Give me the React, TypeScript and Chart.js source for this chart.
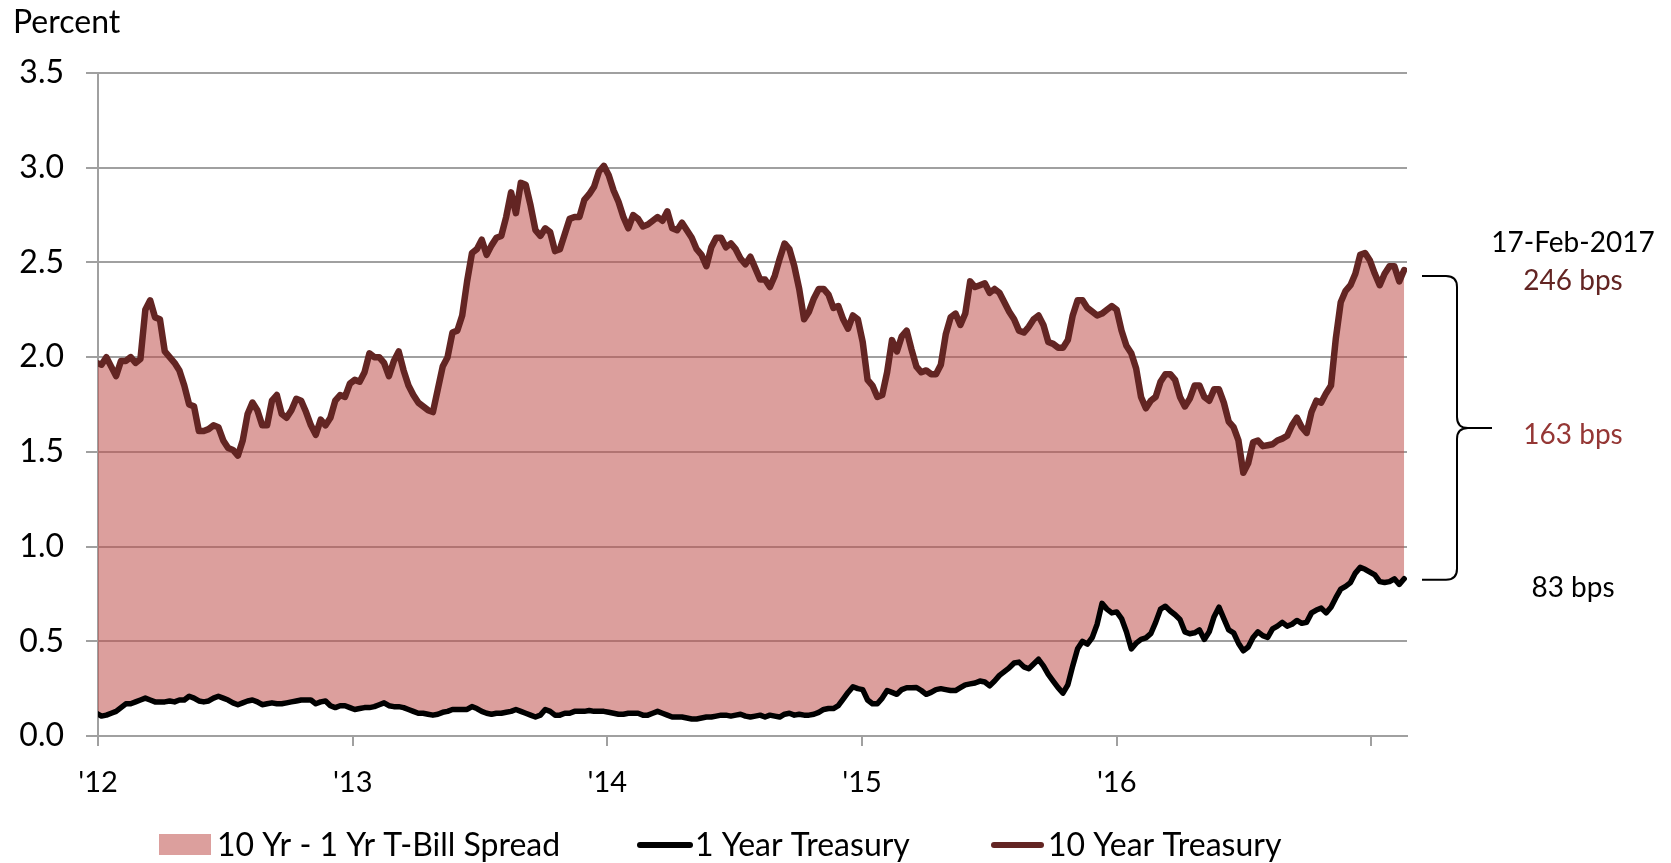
import { useEffect, useRef } from 'react';
import { Chart, registerables } from 'chart.js';

Chart.register(...registerables);

// Weekly observations (Fridays) from 30-Dec-2011 to 17-Feb-2017
const START_DATE_UTC = Date.UTC(2011, 11, 30);
const STEP_DAYS = 7;

const YEAR_TICKS = [2012, 2013, 2014, 2015, 2016, 2017];
const LABELED_YEARS = [2012, 2013, 2014, 2015, 2016];
const SERIES_LABELS = ['10 Yr - 1 Yr T-Bill Spread', '1 Year Treasury', '10 Year Treasury'];
const AS_OF_LABEL = '17-Feb-2017';
const Y_AXIS_TITLE = 'Percent';

// 10 Year Treasury yield, percent
const TEN_YEAR = [
  // 2012
  1.97, 1.96, 2.0, 1.95, 1.9, 1.98, 1.98, 2.0, 1.97, 1.99,
  2.25, 2.3, 2.21, 2.2, 2.03, 2.0, 1.97, 1.93, 1.85, 1.75,
  1.74, 1.61, 1.61, 1.62, 1.64, 1.63, 1.56, 1.52, 1.51, 1.48,
  1.56, 1.7, 1.76, 1.72, 1.64, 1.64, 1.77, 1.8, 1.7, 1.68,
  1.72, 1.78, 1.77, 1.71, 1.64, 1.59, 1.67, 1.64, 1.68, 1.77,
  1.8, 1.79,
  // 2013
  1.86, 1.88, 1.87, 1.92, 2.02, 2.0, 2.0, 1.97, 1.9, 1.98,
  2.03, 1.93, 1.85, 1.8, 1.76, 1.74, 1.72, 1.71, 1.83, 1.95,
  2.0, 2.13, 2.14, 2.22, 2.4, 2.55, 2.57, 2.62, 2.54, 2.59,
  2.63, 2.64, 2.74, 2.87, 2.76, 2.92, 2.91, 2.8, 2.67, 2.64,
  2.68, 2.66, 2.56, 2.57, 2.65, 2.73, 2.74, 2.74, 2.83, 2.86,
  2.9, 2.98,
  // 2014
  3.01, 2.96, 2.88, 2.82, 2.74, 2.68, 2.75, 2.73, 2.69, 2.7,
  2.72, 2.74, 2.72, 2.77, 2.68, 2.67, 2.71, 2.67, 2.63, 2.57,
  2.54, 2.48, 2.58, 2.63, 2.63, 2.58, 2.6, 2.57, 2.52, 2.49,
  2.53, 2.47, 2.41, 2.41, 2.37, 2.43, 2.52, 2.6, 2.57, 2.48,
  2.36, 2.2, 2.24, 2.31, 2.36, 2.36, 2.33, 2.26, 2.27, 2.2,
  2.15, 2.22,
  // 2015
  2.2, 2.08, 1.88, 1.85, 1.79, 1.8, 1.92, 2.09, 2.03, 2.11,
  2.14, 2.04, 1.95, 1.92, 1.93, 1.91, 1.91, 1.96, 2.12, 2.21,
  2.23, 2.17, 2.23, 2.4, 2.37, 2.38, 2.39, 2.34, 2.36, 2.34,
  2.29, 2.24, 2.2, 2.14, 2.13, 2.16, 2.2, 2.22, 2.17, 2.08,
  2.07, 2.05, 2.05, 2.09, 2.22, 2.3, 2.3, 2.26, 2.24, 2.22,
  2.23, 2.25,
  // 2016 - 2017
  2.27, 2.25, 2.14, 2.06, 2.02, 1.94, 1.79, 1.73, 1.77, 1.79,
  1.87, 1.91, 1.91, 1.88, 1.79, 1.74, 1.78, 1.85, 1.85, 1.79,
  1.77, 1.83, 1.83, 1.76, 1.66, 1.63, 1.56, 1.39, 1.44, 1.55,
  1.56, 1.53, 1.535, 1.54, 1.56, 1.57, 1.585, 1.64, 1.68, 1.63,
  1.6, 1.71, 1.77, 1.76, 1.81, 1.85, 2.1, 2.29, 2.35, 2.38,
  2.44, 2.54, 2.55, 2.51, 2.44, 2.38, 2.44, 2.48, 2.48, 2.4,
  2.46,
];

// 1 Year Treasury yield, percent
const ONE_YEAR = [
  // 2012
  0.12, 0.105, 0.11, 0.12, 0.13, 0.15, 0.17, 0.17, 0.18, 0.19,
  0.2, 0.19, 0.18, 0.18, 0.18, 0.185, 0.18, 0.19, 0.19, 0.21,
  0.2, 0.185, 0.18, 0.185, 0.2, 0.21, 0.2, 0.19, 0.175, 0.165,
  0.175, 0.185, 0.19, 0.18, 0.165, 0.17, 0.175, 0.17, 0.17, 0.175,
  0.18, 0.185, 0.19, 0.19, 0.19, 0.17, 0.18, 0.185, 0.16, 0.15,
  0.16, 0.16,
  // 2013
  0.15, 0.14, 0.145, 0.15, 0.15, 0.155, 0.165, 0.175, 0.16, 0.155,
  0.155, 0.15, 0.14, 0.13, 0.12, 0.12, 0.115, 0.11, 0.115, 0.125,
  0.13, 0.14, 0.14, 0.14, 0.14, 0.155, 0.145, 0.13, 0.12, 0.115,
  0.12, 0.12, 0.125, 0.13, 0.14, 0.13, 0.12, 0.11, 0.1, 0.11,
  0.14, 0.13, 0.11, 0.11, 0.12, 0.12, 0.13, 0.13, 0.13, 0.135,
  0.13, 0.13,
  // 2014
  0.13, 0.125, 0.12, 0.115, 0.115, 0.12, 0.12, 0.12, 0.11, 0.11,
  0.12, 0.13, 0.12, 0.11, 0.1, 0.1, 0.1, 0.095, 0.09, 0.09,
  0.095, 0.1, 0.1, 0.105, 0.11, 0.11, 0.105, 0.11, 0.115, 0.105,
  0.1, 0.105, 0.11, 0.1, 0.11, 0.105, 0.1, 0.115, 0.12, 0.11,
  0.115, 0.11, 0.11, 0.115, 0.125, 0.14, 0.145, 0.145, 0.16, 0.195,
  0.23, 0.26,
  // 2015
  0.25, 0.245, 0.19, 0.17, 0.17, 0.2, 0.24, 0.23, 0.22, 0.245,
  0.255, 0.255, 0.256, 0.24, 0.22, 0.23, 0.245, 0.25, 0.245, 0.24,
  0.24, 0.255, 0.27, 0.275, 0.28, 0.29, 0.285, 0.265, 0.29, 0.32,
  0.34, 0.36, 0.385, 0.39, 0.365, 0.355, 0.38, 0.405, 0.37, 0.325,
  0.29, 0.255, 0.226, 0.27, 0.37, 0.46, 0.5, 0.485, 0.52, 0.59,
  0.7, 0.67,
  // 2016 - 2017
  0.65, 0.655, 0.62, 0.55, 0.46, 0.49, 0.51, 0.518, 0.54, 0.6,
  0.67, 0.685, 0.66, 0.64, 0.615, 0.55, 0.54, 0.545, 0.56, 0.51,
  0.55, 0.63, 0.68, 0.62, 0.56, 0.545, 0.49, 0.45, 0.47, 0.52,
  0.55, 0.53, 0.52, 0.565, 0.58, 0.6, 0.58, 0.59, 0.61, 0.595,
  0.6, 0.65, 0.665, 0.675, 0.65, 0.68, 0.73, 0.775, 0.79, 0.81,
  0.86, 0.89, 0.88, 0.865, 0.85, 0.815, 0.81, 0.815, 0.83, 0.8,
  0.83,
];

const FONT = 'Lato, "Open Sans", sans-serif';
const COLOR_TEN = '#632523';
const COLOR_SPREAD_TEXT = '#953735';
const COLOR_FILL = 'rgba(192, 80, 77, 0.55)';
const COLOR_GRID = '#a0a0a0';

function decimalYear(ms: number): number {
  const d = new Date(ms);
  const y = d.getUTCFullYear();
  const s = Date.UTC(y, 0, 1);
  const e = Date.UTC(y + 1, 0, 1);
  return y + (ms - s) / (e - s);
}

const X_VALUES = TEN_YEAR.map((_, i) => decimalYear(START_DATE_UTC + i * STEP_DAYS * 86400000));

const overlayPlugin = {
  id: 'overlay',
  afterDraw(chart: any) {
    const { ctx } = chart;
    const yScale = chart.scales.y;
    ctx.save();

    // y-axis title
    ctx.fillStyle = '#000';
    ctx.font = `32px ${FONT}`;
    ctx.textAlign = 'left';
    ctx.textBaseline = 'alphabetic';
    ctx.fillText(Y_AXIS_TITLE, 13, 33);

    // right-hand annotation
    const last10 = TEN_YEAR[TEN_YEAR.length - 1];
    const last1 = ONE_YEAR[ONE_YEAR.length - 1];
    const y10 = yScale.getPixelForValue(last10);
    const y1 = yScale.getPixelForValue(last1);
    const top = y10 + 6;
    const bot = y1 + 1;
    const mid = (top + bot) / 2;
    const x0 = 1422;
    const xv = 1457;
    const xt = 1492;
    const r = 11;
    ctx.strokeStyle = '#000';
    ctx.lineWidth = 2;
    ctx.beginPath();
    ctx.moveTo(x0, top);
    ctx.lineTo(xv - r, top);
    ctx.quadraticCurveTo(xv, top, xv, top + r);
    ctx.lineTo(xv, mid - r);
    ctx.quadraticCurveTo(xv, mid, xv + r, mid);
    ctx.lineTo(xt, mid);
    ctx.moveTo(xv + r, mid);
    ctx.quadraticCurveTo(xv, mid, xv, mid + r);
    ctx.lineTo(xv, bot - r);
    ctx.quadraticCurveTo(xv, bot, xv - r, bot);
    ctx.lineTo(x0, bot);
    ctx.stroke();

    const tx = 1573;
    ctx.textAlign = 'center';
    ctx.font = `28px ${FONT}`;
    ctx.fillStyle = '#000';
    ctx.fillText(AS_OF_LABEL, tx, y10 - 18);
    ctx.fillStyle = COLOR_TEN;
    ctx.fillText(`${Math.round(last10 * 100)} bps`, tx, y10 + 20);
    ctx.fillStyle = COLOR_SPREAD_TEXT;
    ctx.fillText(`${Math.round((last10 - last1) * 100)} bps`, tx, mid + 16);
    ctx.fillStyle = '#000';
    ctx.fillText(`${Math.round(last1 * 100)} bps`, tx, y1 + 18);

    // legend
    const ly = 856;
    ctx.textAlign = 'left';
    ctx.font = `32px ${FONT}`;
    ctx.fillStyle = COLOR_FILL;
    ctx.fillRect(159, 834, 52, 21);
    ctx.fillStyle = '#000';
    ctx.fillText(SERIES_LABELS[0], 217, ly);

    ctx.lineCap = 'round';
    ctx.lineWidth = 6;
    ctx.strokeStyle = '#000';
    ctx.beginPath();
    ctx.moveTo(640, 845);
    ctx.lineTo(690, 845);
    ctx.stroke();
    ctx.fillText(SERIES_LABELS[1], 695, ly);

    ctx.strokeStyle = COLOR_TEN;
    ctx.beginPath();
    ctx.moveTo(994, 845);
    ctx.lineTo(1041, 845);
    ctx.stroke();
    ctx.fillText(SERIES_LABELS[2], 1048, ly);

    ctx.restore();
  },
};

export default function App() {
  const canvasRef = useRef<HTMLCanvasElement>(null);

  useEffect(() => {
    const canvas = canvasRef.current;
    if (!canvas) return;
    const chart = new Chart(canvas, {
      type: 'line',
      data: {
        datasets: [
          {
            label: SERIES_LABELS[1],
            data: ONE_YEAR.map((v, i) => ({ x: X_VALUES[i], y: v })),
            borderColor: '#000',
            borderWidth: 5.5,
            pointRadius: 0,
            fill: false,
            borderJoinStyle: 'round',
            borderCapStyle: 'round',
          },
          {
            label: SERIES_LABELS[2],
            data: TEN_YEAR.map((v, i) => ({ x: X_VALUES[i], y: v })),
            borderColor: COLOR_TEN,
            borderWidth: 6.5,
            pointRadius: 0,
            fill: '-1',
            backgroundColor: COLOR_FILL,
            borderJoinStyle: 'round',
            borderCapStyle: 'round',
          },
        ],
      },
      options: {
        responsive: false,
        animation: false,
        devicePixelRatio: 1,
        layout: { padding: { left: 0, top: 73, right: 264, bottom: 0 } },
        plugins: {
          legend: { display: false },
          tooltip: { enabled: false },
        },
        elements: { line: { tension: 0 }, point: { radius: 0 } },
        scales: {
          x: {
            type: 'linear',
            min: 2012,
            max: 2017.14,
            afterBuildTicks: (scale: any) => {
              scale.ticks = YEAR_TICKS.map((v) => ({ value: v }));
            },
            afterFit: (scale: any) => {
              scale.height = 127;
            },
            grid: { drawOnChartArea: false, color: COLOR_GRID, lineWidth: 2, tickLength: 10 },
            border: { color: COLOR_GRID, width: 2 },
            ticks: {
              autoSkip: false,
              maxRotation: 0,
              padding: 19,
              color: '#000',
              font: { family: FONT, size: 29 },
              callback: (v: any) => (LABELED_YEARS.includes(Number(v)) ? "'" + String(v).slice(2) : ''),
            },
          },
          y: {
            min: 0,
            max: 3.5,
            afterFit: (scale: any) => {
              scale.width = 98;
            },
            grid: { color: COLOR_GRID, lineWidth: 2, tickLength: 12 },
            border: { color: COLOR_GRID, width: 2 },
            ticks: {
              stepSize: 0.5,
              padding: 22,
              color: '#000',
              font: { family: FONT, size: 32 },
              callback: (v: any) => Number(v).toFixed(1),
            },
          },
        },
      },
      plugins: [overlayPlugin],
    });
    return () => chart.destroy();
  }, []);

  return (
    <div style={{ position: 'fixed', left: 0, top: 0, width: 1671, height: 863, background: '#fff' }}>
      <canvas ref={canvasRef} width={1671} height={863} style={{ display: 'block', width: 1671, height: 863 }} />
    </div>
  );
}
